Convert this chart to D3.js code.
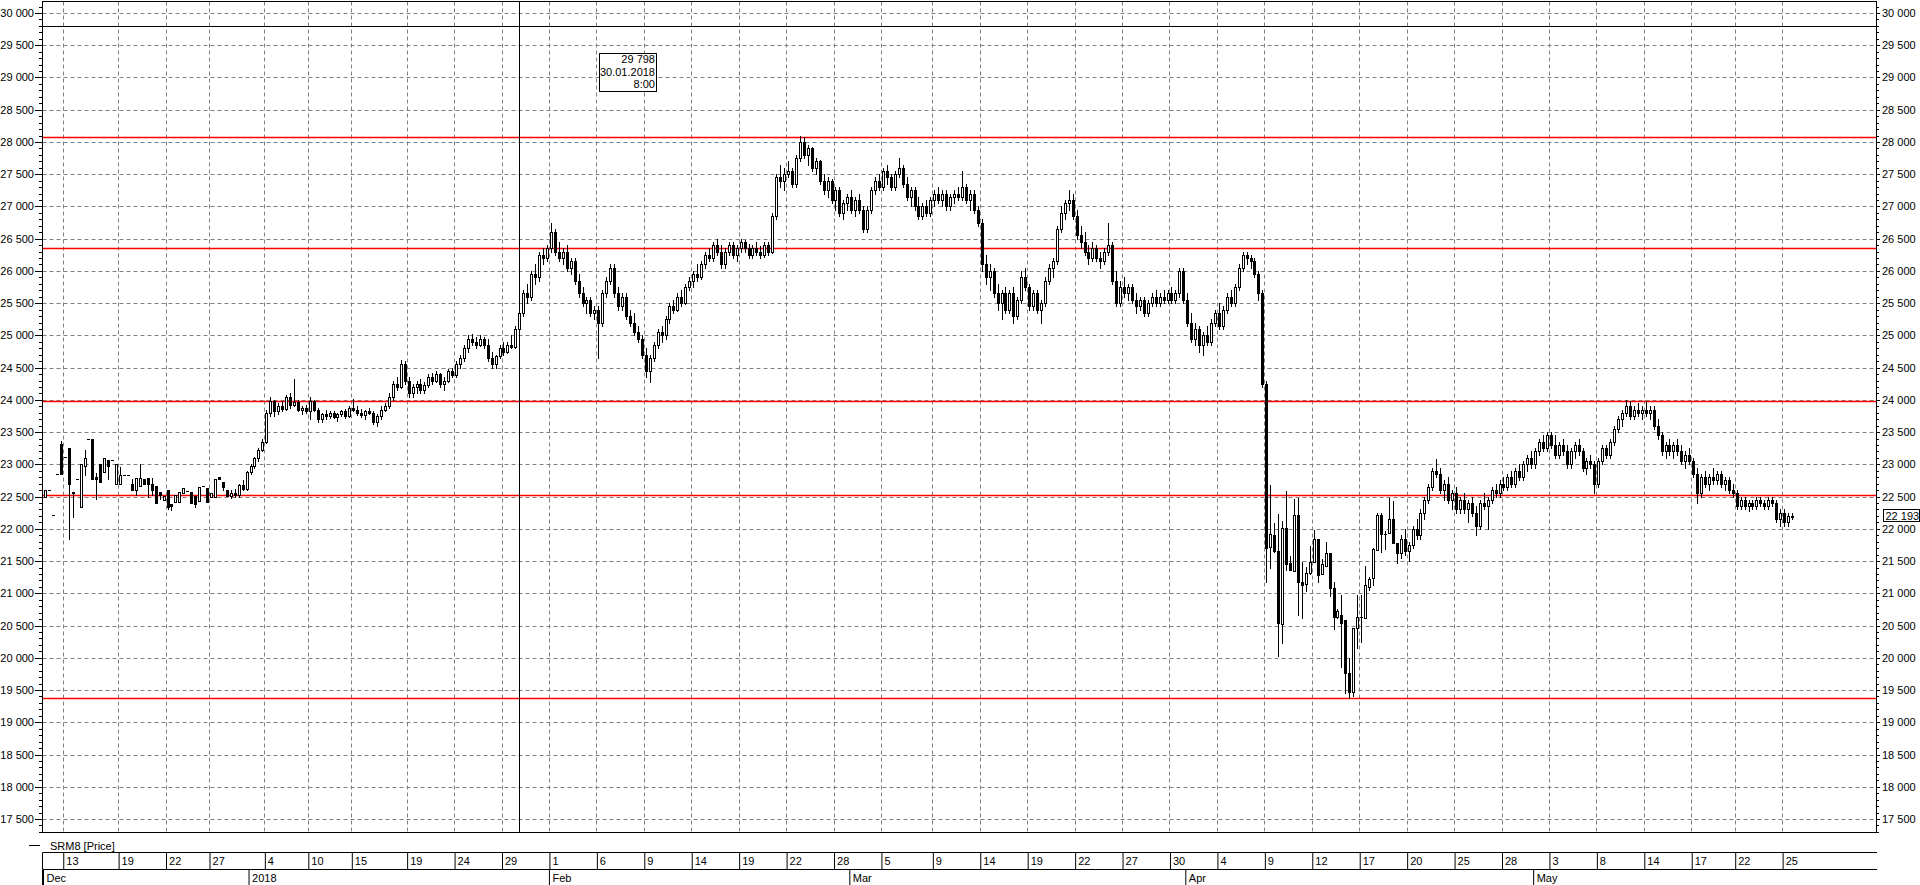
<!DOCTYPE html>
<html><head><meta charset="utf-8">
<script src="https://cdn.jsdelivr.net/npm/d3@7"></script>
<style>
html,body{margin:0;padding:0;background:#fff;overflow:hidden;}
svg{display:block;font-family:"Liberation Sans",Arial,sans-serif;font-size:11px;}
</style></head><body>
<svg id="c" width="1920" height="885"></svg>
<script>
// ---- data ----
const opens = [
22500,22610,22210,22850,23320,23120,23250,22570,22780,22340,22980,23400,23390,22810,23010,22880,23060,23060,22700,22700,22830,22830,22700,22600,22670,22770,22790,22690,22670,22570,22440,22610,22390,22410,22410,22560,22590,22570,22510,22430,22670,22630,22500,22500,22810,22730,22610,
22510,22560,22520,22680,22620,22880,22980,23100,23220,23350,23800,23980,
23820,23900,23860,24050,23920,23960,23840,23880,23820,23980,23850,23700,23780,23750,23800,23740,23780,23820,23750,23880,23850,23800,23760,23820,23800,23660,23750,23850,
23900,24050,24250,24200,24550,24300,24100,24200,24250,24150,24230,24350,24300,24400,24250,24300,24450,24380,24550,
24650,24800,24950,24900,24850,24950,24850,24650,24550,24680,24800,24750,24850,
24820,25100,25350,25650,25600,25950,25900,26250,26200,26350,26600,26300,26200,26300,26050,
26150,25850,25650,25500,25550,25350,25400,25200,25650,25850,26050,25650,25450,25600,25300,25200,25050,24950,24700,24450,
24650,24850,25050,25000,25250,25450,25400,25600,25500,25750,25850,25950,25900,26100,26250,26200,26400,26300,26100,26300,26400,26250,26350,26450,26350,26250,26350,26300,26250,26400,
26300,26850,27450,27400,27500,27550,27350,27750,28000,27800,27900,27600,27700,27400,27250,27400,27100,27250,26900,27050,
27150,26950,27100,26950,26650,26950,27250,27400,27300,27550,27450,27300,27500,27600,27350,27150,27250,27000,26850,27000,26900,27100,27200,27100,27200,27000,27150,27200,27150,27300,27100,27200,26950,
26750,26100,25900,26000,25650,25500,25650,25400,25650,25300,25550,25900,25750,25450,25650,25400,25500,25850,26050,26150,26650,26900,27050,27100,26850,26550,26450,26300,26200,26350,26200,26150,
26300,26400,25850,25500,25750,25650,25750,25550,25450,25550,25350,25500,25600,25500,25600,25550,25650,25550,25650,26000,25550,25200,24950,25100,24850,25000,24900,25200,25350,25150,25400,25600,25500,25750,26050,26250,26200,26150,25950,25650,24250,
21720,21900,21660,20530,22020,21470,21340,22210,21180,21140,21310,21480,21850,21300,21430,21620,21090,20630,20660,20580,19760,19470,20460,20630,20610,21100,21230,21670,22210,21920,21930,22160,21780,
21620,21850,21650,21750,22000,21900,22250,22450,22650,22900,22850,22600,22700,22450,22550,22300,22450,22300,22400,22250,
22050,22400,22350,22450,22600,22550,22700,22650,22800,22700,22900,22800,23000,23100,23000,23200,23350,23250,23450,23300,
23150,23300,23200,23000,23200,23300,23200,22950,23050,23000,22700,23050,23250,23150,23350,23550,23700,23800,23900,23750,
23850,23800,23850,23800,23850,23600,23450,23200,23300,23200,23300,23200,23050,23150,23050,22850,22550,22800,22700,22800,
22750,22850,22700,22750,22600,22550,22350,22450,22350,22400,22350,22450,22400,22350,22450,22400,22150,22250,22100,22200];
const highs = [
22610,22610,22210,22850,23370,23120,23250,22570,22780,23000,23220,23400,23390,22860,23010,23100,23060,23060,23010,22960,22830,22830,22780,22790,23000,22770,22790,22790,22670,22570,22510,22610,22390,22530,22570,22630,22590,22570,22510,22650,22670,22630,22550,22780,22810,22730,22610,
22600,22620,22700,22750,22900,23000,23120,23250,23400,23850,24050,24000,
23950,23980,24080,24100,24330,24000,23900,23920,24050,24000,23880,23800,23840,23820,23830,23800,23850,23860,23900,24020,23900,23860,23850,23880,23820,23780,23900,23950,
24100,24300,24350,24620,24600,24350,24250,24300,24320,24280,24400,24420,24450,24420,24350,24480,24500,24600,24700,
24850,25000,25020,24980,25000,24980,24950,24750,24700,24850,24900,24900,25000,
25150,25400,25700,25800,26000,26100,26300,26350,26400,26750,26650,26450,26350,26400,26200,
26200,25950,25750,25600,25600,25450,25450,25700,25900,26100,26100,25750,25650,25650,25400,25350,25150,25000,24800,24700,
24900,25100,25150,25300,25500,25550,25650,25700,25800,25900,26000,26100,26150,26300,26350,26450,26500,26400,26350,26450,26450,26400,26500,26480,26420,26400,26450,26380,26450,26450,
26900,27500,27650,27600,27700,27600,27800,28100,28080,27950,27920,27750,27720,27500,27450,27420,27300,27300,27100,27200,
27250,27150,27200,27000,27000,27300,27450,27500,27600,27650,27500,27550,27750,27650,27450,27300,27300,27150,27050,27100,27150,27250,27300,27250,27250,27200,27250,27300,27550,27350,27250,27250,27000,
26800,26250,26100,26050,25800,25700,25750,25700,25750,25600,26000,26050,25800,25700,25700,25550,25900,26100,26200,26700,27000,27100,27250,27200,26950,26700,26600,26400,26450,26400,26300,26350,
26750,26450,26000,25850,25900,25800,25800,25650,25600,25600,25550,25650,25700,25650,25700,25700,25750,25700,26050,26050,25650,25350,25200,25150,25050,25150,25250,25400,25500,25450,25650,25700,25800,26100,26300,26300,26250,26200,26000,25700,24300,
22680,22090,22230,22120,22590,21580,22460,22480,21480,21410,21730,21980,21850,21530,21790,21620,21170,20750,20970,20580,20000,20460,20980,20980,21430,21260,21710,22240,22250,21970,22480,22430,21780,
21900,22000,21800,22050,22150,22300,22500,22700,22950,23080,22950,22750,22800,22600,22650,22500,22550,22450,22500,22350,
22450,22550,22500,22650,22700,22750,22800,22850,22900,22950,23000,23050,23150,23200,23250,23400,23450,23500,23500,23450,
23350,23400,23300,23250,23350,23400,23250,23100,23150,23050,23100,23300,23300,23400,23600,23750,23850,24000,23980,23900,
23950,23900,23980,23900,23900,23700,23500,23350,23400,23350,23400,23300,23200,23250,23100,22950,22850,22900,22850,22950,
22900,22900,22800,22800,22700,22600,22500,22500,22450,22450,22500,22500,22450,22500,22500,22450,22300,22300,22250,22250];
const lows = [
22500,22610,22210,22850,22850,23120,21840,22190,22780,22340,22830,23400,22770,22470,22730,22880,22770,23060,22700,22700,22830,22830,22600,22530,22670,22700,22500,22530,22400,22460,22440,22310,22290,22410,22410,22560,22590,22400,22340,22430,22670,22410,22500,22500,22780,22600,22510,
22480,22500,22500,22600,22600,22850,22950,23050,23200,23330,23750,23750,
23780,23820,23840,23880,23900,23820,23780,23800,23700,23820,23650,23660,23700,23720,23720,23680,23750,23720,23740,23830,23760,23740,23700,23780,23620,23600,23700,23820,
23880,24000,24150,24180,24250,24050,24050,24100,24100,24100,24200,24250,24280,24200,24150,24280,24350,24350,24500,
24600,24750,24850,24800,24830,24800,24600,24500,24500,24650,24700,24720,24800,
24800,25050,25300,25500,25550,25800,25850,26100,26150,26300,26250,26150,26100,26000,25950,
25800,25600,25450,25350,25300,25250,24650,25150,25600,25800,25600,25400,25400,25250,25150,25000,24900,24650,24350,24270,
24600,24800,24900,24950,25200,25350,25380,25450,25480,25700,25750,25850,25880,26050,26150,26150,26250,26050,26050,26250,26200,26150,26300,26300,26200,26200,26250,26200,26220,26250,
26280,26800,27300,27250,27450,27300,27300,27700,27750,27650,27550,27500,27350,27200,27150,27050,26950,26850,26800,26950,
26900,26850,26900,26600,26600,26900,27200,27250,27250,27350,27250,27250,27450,27300,27100,27000,26950,26800,26800,26850,26850,27000,27050,27000,26950,26950,27050,27100,27100,27050,26950,26900,26700,
26000,25800,25700,25600,25400,25250,25350,25350,25200,25250,25500,25700,25400,25400,25350,25200,25450,25800,25900,26100,26600,26800,26950,26800,26500,26350,26250,26100,26150,26150,26050,26100,
26250,25800,25450,25450,25600,25550,25500,25350,25400,25300,25300,25450,25450,25450,25500,25500,25500,25500,25600,25500,25150,24900,24850,24750,24700,24850,24850,25150,25100,25100,25350,25450,25450,25700,26000,26100,26050,25900,25550,24200,21170,
21390,21640,20030,20230,21360,21360,21340,20660,20610,21030,21300,21480,21180,21300,21430,20960,20440,20610,19850,19450,19370,19400,20150,20250,20610,21050,21130,21670,21640,21680,21930,21780,21470,
21550,21600,21500,21700,21850,21850,22150,22400,22600,22800,22550,22450,22400,22300,22250,22250,22250,22100,22200,21900,
22000,22300,22000,22400,22500,22500,22600,22600,22650,22650,22750,22750,22900,22950,22950,23150,23200,23200,23250,23100,
23100,23150,22950,22950,23100,23150,22900,22850,22950,22550,22650,23000,23100,23100,23300,23500,23600,23750,23700,23700,
23750,23700,23750,23700,23550,23400,23150,23100,23150,23100,23150,23000,22950,23000,22800,22400,22500,22650,22600,22700,
22700,22650,22600,22550,22500,22300,22300,22300,22280,22300,22300,22350,22300,22300,22350,22100,22050,22050,22050,22150];
const closes = [
22610,22610,22210,22850,22850,23120,22700,22560,22780,23000,23100,23400,22770,22780,22730,23100,22980,23060,23010,22830,22830,22830,22600,22790,22790,22700,22700,22610,22400,22520,22510,22340,22350,22530,22570,22630,22590,22400,22380,22650,22670,22410,22550,22780,22780,22650,22510,
22560,22520,22680,22620,22880,22980,23100,23220,23350,23800,23980,23820,
23900,23860,24050,23920,23960,23840,23880,23820,23980,23850,23700,23780,23750,23800,23740,23780,23820,23750,23880,23850,23800,23760,23820,23800,23660,23750,23850,23900,
24050,24250,24200,24550,24300,24100,24200,24250,24150,24230,24350,24300,24400,24250,24300,24450,24380,24550,24650,
24800,24950,24900,24850,24950,24850,24650,24550,24680,24800,24750,24850,24820,
25100,25350,25650,25600,25950,25900,26250,26200,26350,26600,26300,26200,26300,26050,26150,
25850,25650,25500,25550,25350,25400,25200,25650,25850,26050,25650,25450,25600,25300,25200,25050,24950,24700,24450,24650,
24850,25050,25000,25250,25450,25400,25600,25500,25750,25850,25950,25900,26100,26250,26200,26400,26300,26100,26300,26400,26250,26350,26450,26350,26250,26350,26300,26250,26400,26300,
26850,27450,27400,27500,27550,27350,27750,28000,27800,27900,27600,27700,27400,27250,27400,27100,27250,26900,27050,27150,
26950,27100,26950,26650,26950,27250,27400,27300,27550,27450,27300,27500,27600,27350,27150,27250,27000,26850,27000,26900,27100,27200,27100,27200,27000,27150,27200,27150,27300,27100,27200,26950,26750,
26100,25900,26000,25650,25500,25650,25400,25650,25300,25550,25900,25750,25450,25650,25400,25500,25850,26050,26150,26650,26900,27050,27100,26850,26550,26450,26300,26200,26350,26200,26150,26300,
26400,25850,25500,25750,25650,25750,25550,25450,25550,25350,25500,25600,25500,25600,25550,25650,25550,25650,26000,25550,25200,24950,25100,24850,25000,24900,25200,25350,25150,25400,25600,25500,25750,26050,26250,26200,26150,25950,25650,24250,21710,
21920,21660,20540,22020,21450,21360,22210,21170,21130,21310,21480,21850,21290,21450,21620,21090,20630,20730,20540,19760,19470,20460,20630,20630,21130,21220,21690,22210,21920,21920,22160,21780,21620,
21850,21650,21750,22000,21900,22250,22450,22650,22900,22850,22600,22700,22450,22550,22300,22450,22300,22400,22250,22050,
22400,22350,22450,22600,22550,22700,22650,22800,22700,22900,22800,23000,23100,23000,23200,23350,23250,23450,23300,23150,
23300,23200,23000,23200,23300,23200,22950,23050,23000,22700,23050,23250,23150,23350,23550,23700,23800,23900,23750,23850,
23800,23850,23800,23850,23600,23450,23200,23300,23200,23300,23200,23050,23150,23050,22850,22550,22800,22700,22800,22750,
22850,22700,22750,22600,22550,22350,22450,22350,22400,22350,22450,22400,22350,22450,22400,22150,22250,22100,22200,22190];

const dayLabels = ["13","19","22","27","4","10","15","19","24","29","1","6","9","14","19","22","28","5","9","14","19","22","27","30","4","9","12","17","20","25","28","3","8","14","17","22","25"];
const dayBars   = [5,19,31,42,56,67,78,92,104,116,128,140,152,164,176,188,200,212,225,237,249,261,273,285,297,309,321,333,345,357,369,381,393,405,417,428,440];
const monthLabels = ["Dec","2018","Feb","Mar","Apr","May"];
const monthBars   = [0,52,128,204,289,377];

const levelValues = [28070,26350,23980,22520,19380];
const cursorBar = 120, cursorValue = 29798;
const cursorText = ["29 798","30.01.2018","8:00"];
const lastPrice = 22193;
const seriesName = "SRM8 [Price]";
const totalSlots = 464;

// ---- drawing ----
const svg = d3.select("#c");
const fmt = d3.formatLocale({decimal:".",thousands:" ",grouping:[3],currency:["",""]}).format(",d");
const FL = 42.5, FR = 1876.5, FT = 1.5, FB = 832.5;
const y = d3.scaleLinear().domain([17500,30000]).rangeRound([819,13]);
const x = d3.scaleLinear().domain([0,totalSlots]).range([43,1877]);
const yTop = y.invert(FT), yBot = y.invert(FB);
const majors = d3.range(17500,30001,500);
const minors = d3.range(17300,30101,100).filter(v => v%500!==0 && v<yTop && v>yBot);
const gridCol = "#808080";

svg.append("rect").attr("width",1920).attr("height",885).attr("fill","#fff");

// grid
const g = svg.append("g");
g.selectAll(".hg").data(majors).join("line")
  .attr("x1",FL).attr("x2",FR).attr("y1",d=>y(d)+0.5).attr("y2",d=>y(d)+0.5)
  .attr("stroke",gridCol).attr("stroke-dasharray","4,3");
g.selectAll(".vg").data(dayBars).join("line")
  .attr("x1",d=>Math.round(x(d))+0.5).attr("x2",d=>Math.round(x(d))+0.5)
  .attr("y1",FT).attr("y2",FB)
  .attr("stroke",gridCol).attr("stroke-dasharray","4,3");

// frame
svg.append("rect").attr("x",FL).attr("y",FT).attr("width",FR-FL).attr("height",FB-FT)
  .attr("fill","none").attr("stroke","#000");

// axes
function styleAxis(sel){ sel.attr("font-family",null).attr("font-size",null); sel.selectAll("text").attr("fill","#000"); sel.selectAll("line,path").attr("stroke","#000"); }
svg.append("g").attr("transform",`translate(${FL-0.5},0)`)
  .call(d3.axisLeft(y).tickValues(minors).tickSize(3).tickFormat("").tickSizeOuter(0)).call(styleAxis)
  .select(".domain").remove();
svg.append("g").attr("transform",`translate(${FL-0.5},0)`)
  .call(d3.axisLeft(y).tickValues(majors).tickSize(7).tickPadding(1).tickFormat(fmt).tickSizeOuter(0)).call(styleAxis)
  .select(".domain").remove();
svg.append("g").attr("transform",`translate(${FR-0.5},0)`)
  .call(d3.axisRight(y).tickValues(minors).tickSize(3).tickFormat("").tickSizeOuter(0)).call(styleAxis)
  .select(".domain").remove();
svg.append("g").attr("transform",`translate(${FR-0.5},0)`)
  .call(d3.axisRight(y).tickValues(majors).tickSize(4).tickPadding(2).tickFormat(fmt).tickSizeOuter(0)).call(styleAxis)
  .select(".domain").remove();

// support / resistance lines
svg.append("g").selectAll("line").data(levelValues).join("line")
  .attr("x1",FL+0.5).attr("x2",FR-0.5).attr("y1",d=>y(d)+0.5).attr("y2",d=>y(d)+0.5)
  .attr("stroke","#ff0000").attr("stroke-width",1.4);

// crosshair
const cx = Math.floor(x(cursorBar+0.5))+0.5;
svg.append("line").attr("x1",FL).attr("x2",FR).attr("y1",y(cursorValue)+0.5).attr("y2",y(cursorValue)+0.5).attr("stroke","#000");
svg.append("line").attr("x1",cx).attr("x2",cx).attr("y1",FT).attr("y2",FB).attr("stroke","#000");

// candles
const n = Math.min(opens.length, highs.length, lows.length, closes.length);
const bars = d3.range(n).map(i=>({i,o:opens[i],h:highs[i],l:lows[i],c:closes[i]}));
const cg = svg.append("g");
bars.forEach(d=>{
  const left = Math.round(x(d.i+0.5))-1;
  const mid = left+1.5;
  const yh = y(d.h), yl = y(d.l), yo = y(d.o), yc = y(d.c);
  cg.append("line").attr("x1",mid).attr("x2",mid).attr("y1",yh).attr("y2",yl+1).attr("stroke","#000");
  if (d.o===d.c || yo===yc){
    cg.append("line").attr("x1",left).attr("x2",left+3).attr("y1",yo+0.5).attr("y2",yo+0.5).attr("stroke","#000");
  } else {
    const top = Math.min(yo,yc), bot = Math.max(yo,yc);
    cg.append("rect").attr("x",left+0.5).attr("y",top+0.5).attr("width",2).attr("height",Math.max(bot-top,1))
      .attr("fill",d.c>d.o?"#fff":"#000").attr("stroke","#000");
  }
});

// cursor info box
const bx = 599.5, by = 53.5;
svg.append("rect").attr("x",bx).attr("y",by).attr("width",57).attr("height",38).attr("fill","#fff").attr("stroke","#000");
svg.append("g").selectAll("text").data(cursorText).join("text")
  .attr("x",bx+55.5).attr("y",(d,i)=>by+9.5+i*12.5).attr("text-anchor","end").attr("fill","#000").text(d=>d);

// last price box
const ly = y(lastPrice);
svg.append("rect").attr("x",1883.5).attr("y",Math.round(ly)-6.5).attr("width",36).attr("height",12).attr("fill","#fff").attr("stroke","#000");
svg.append("text").attr("x",1885.5).attr("y",Math.round(ly)+4).attr("fill","#000").text(fmt(lastPrice));

// legend
svg.append("line").attr("x1",29).attr("x2",40).attr("y1",845.5).attr("y2",845.5).attr("stroke","#000");
svg.append("text").attr("x",50).attr("y",849.5).attr("fill","#000").text(seriesName);

// date axis
const dayAxis = svg.append("g").attr("transform","translate(0,852)")
  .call(d3.axisBottom(x).tickValues(dayBars).tickSize(17).tickSizeOuter(0).tickFormat((d,i)=>dayLabels[i]));
dayAxis.call(styleAxis);
dayAxis.select(".domain").attr("d",`M${FL},0.5H${FR+0.5}`);
dayAxis.selectAll(".tick line").attr("transform","translate(0.5,0)").attr("x1",0).attr("x2",0);
dayAxis.selectAll(".tick text").attr("text-anchor","start").attr("x",3).attr("y",13).attr("dy",null);
dayAxis.append("line").attr("x1",FL).attr("x2",FL).attr("y1",0.5).attr("y2",17).attr("stroke","#000");

const monAxis = svg.append("g").attr("transform","translate(0,869)")
  .call(d3.axisBottom(x).tickValues(monthBars).tickSize(16).tickSizeOuter(0).tickFormat((d,i)=>monthLabels[i]));
monAxis.call(styleAxis);
monAxis.select(".domain").attr("d",`M${FL},0.5H${FR+0.5}`);
monAxis.selectAll(".tick text").attr("text-anchor","start").attr("x",3).attr("y",12.5).attr("dy",null);
monAxis.append("line").attr("x1",FL).attr("x2",FL).attr("y1",0.5).attr("y2",16).attr("stroke","#000");
</script>
</body></html>
